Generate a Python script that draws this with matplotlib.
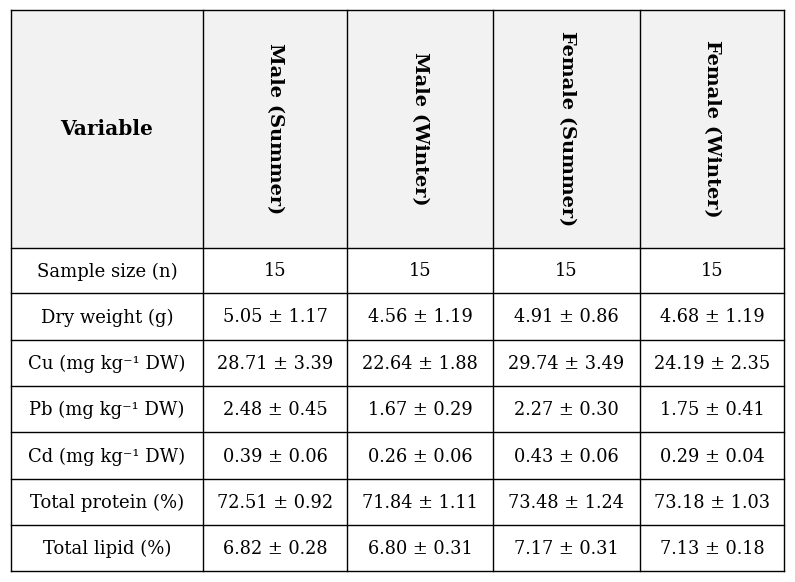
import matplotlib
matplotlib.use("Agg")
import matplotlib.pyplot as plt
from matplotlib.patches import Rectangle

# table content
col_headers = ["Male (Summer)", "Male (Winter)", "Female (Summer)", "Female (Winter)"]
variables = [
    "Sample size (n)",
    "Dry weight (g)",
    "Cu (mg kg\u207b\u00b9 DW)",
    "Pb (mg kg\u207b\u00b9 DW)",
    "Cd (mg kg\u207b\u00b9 DW)",
    "Total protein (%)",
    "Total lipid (%)",
]
male_summer = ["15", "5.05 ± 1.17", "28.71 ± 3.39", "2.48 ± 0.45", "0.39 ± 0.06", "72.51 ± 0.92", "6.82 ± 0.28"]
male_winter = ["15", "4.56 ± 1.19", "22.64 ± 1.88", "1.67 ± 0.29", "0.26 ± 0.06", "71.84 ± 1.11", "6.80 ± 0.31"]
female_summer = ["15", "4.91 ± 0.86", "29.74 ± 3.49", "2.27 ± 0.30", "0.43 ± 0.06", "73.48 ± 1.24", "7.17 ± 0.31"]
female_winter = ["15", "4.68 ± 1.19", "24.19 ± 2.35", "1.75 ± 0.41", "0.29 ± 0.04", "73.18 ± 1.03", "7.13 ± 0.18"]

# layout in pixels
W, H = 795, 582
col_edges = [11, 203, 347, 493, 640, 784]
row_edges = [10, 248, 293, 340, 386, 432, 479, 525, 571]
HEADER_BG = "#f2f2f2"
FONT = "DejaVu Serif"
BODY_SIZE = 12.8
HEAD_SIZE = 14

fig = plt.figure(figsize=(W / 100, H / 100), dpi=100)
ax = fig.add_axes([0, 0, 1, 1])
ax.set_xlim(0, W)
ax.set_ylim(H, 0)
ax.axis("off")

# header background
ax.add_patch(Rectangle((col_edges[0], row_edges[0]), col_edges[-1] - col_edges[0],
                       row_edges[1] - row_edges[0], facecolor=HEADER_BG, edgecolor="none"))

# grid lines
for x in col_edges:
    ax.plot([x, x], [row_edges[0], row_edges[-1]], color="black", lw=1.0, solid_capstyle="projecting")
for y in row_edges:
    ax.plot([col_edges[0], col_edges[-1]], [y, y], color="black", lw=1.0, solid_capstyle="projecting")

def cx(i):
    return (col_edges[i] + col_edges[i + 1]) / 2

def cy(j):
    return (row_edges[j] + row_edges[j + 1]) / 2

# header
ax.text(cx(0), cy(0), "Variable", ha="center", va="center", fontsize=HEAD_SIZE + 0.5,
        fontweight="bold", family=FONT)
for i, h in enumerate(col_headers):
    ax.text(cx(i + 1), cy(0), h, ha="center", va="center", rotation=-90,
            fontsize=HEAD_SIZE, fontweight="bold", family=FONT)

# body
columns = [male_summer, male_winter, female_summer, female_winter]
for j, var in enumerate(variables):
    ax.text(cx(0), cy(j + 1) + 1, var, ha="center", va="center", fontsize=BODY_SIZE + 0.2, family=FONT)
    for i, col in enumerate(columns):
        ax.text(cx(i + 1), cy(j + 1) + 1, col[j], ha="center", va="center",
                fontsize=BODY_SIZE, family=FONT)

fig.savefig("out.png", dpi=100, facecolor="white")
